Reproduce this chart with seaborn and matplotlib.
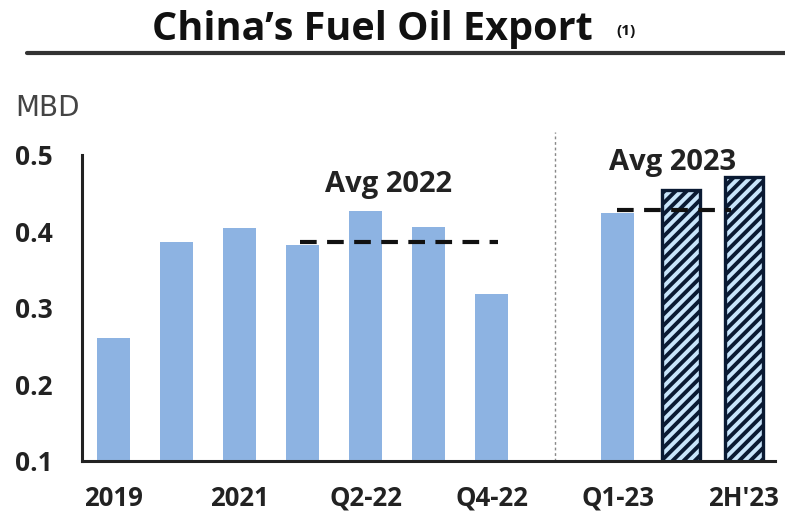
import numpy as np
import pandas as pd
import matplotlib
matplotlib.use("Agg")
import matplotlib.pyplot as plt
import seaborn as sns

categories = ["2019", "2020", "2021", "Q1-22", "Q2-22", "Q3-22", "Q4-22", "",
              "Q1-23", "1H'23", "2H'23"]
values = [0.261, 0.386, 0.405, 0.382, 0.427, 0.406, 0.318, np.nan,
          0.424, 0.454, 0.471]
kind = ["actual"] * 7 + ["gap"] + ["actual", "forecast", "forecast"]
shown_labels = ["2019", "", "2021", "", "Q2-22", "", "Q4-22", "", "Q1-23", "", "2H'23"]
avg_2022 = 0.386
avg_2023 = 0.428
y_ticks = [0.1, 0.2, 0.3, 0.4, 0.5]

df = pd.DataFrame({"cat": categories, "val": values, "kind": kind})

sns.set_theme(style="white")
plt.rcParams["font.family"] = ["Open Sans", "DejaVu Sans"]
plt.rcParams["hatch.color"] = "#143766"
plt.rcParams["hatch.linewidth"] = 2.8

fig = plt.figure(figsize=(7.85, 5.13), dpi=100)
ax = fig.add_axes([0.1045, 0.1014, 0.883, 0.5965])

bar_color = "#8DB3E2"
hatch_face = "#C8E5FB"
palette = {"actual": bar_color, "forecast": hatch_face, "gap": bar_color}
sns.barplot(data=df, x="cat", y="val", hue="kind", order=categories,
            palette=palette, dodge=False, width=0.52, legend=False, ax=ax,
            saturation=1, bottom=0)

for p in ax.patches:
    h = p.get_height()
    if np.isnan(h) or h == 0:
        continue
    xc = p.get_x() + p.get_width() / 2
    idx = int(round(xc))
    if kind[idx] == "forecast":
        p.set_edgecolor("#0A1A33")
        p.set_hatch("///")
        if hasattr(p, "set_hatch_linewidth"):
            p.set_hatch_linewidth(2.8)
        p.set_linewidth(2.4)
        x0 = p.get_x()
        p.set_x(x0 - 0.04)
        p.set_width(p.get_width() + 0.08)
    else:
        p.set_edgecolor("none")

ax.set_ylim(0.1, 0.5)
ax.set_xlim(-0.5, len(categories) - 0.5)
ax.set_yticks(y_ticks)
ax.set_yticklabels([f"{t:.1f}" for t in y_ticks], fontsize=19, fontweight="bold",
                   color="#222222")
ax.set_xticks(range(len(categories)))
ax.set_xticklabels(shown_labels, fontsize=18.5, fontweight="bold", color="#222222")
ax.set_xticks(np.arange(-0.5, len(categories) + 0.5, 1.0), minor=True)
ax.tick_params(axis="x", which="major", length=0, pad=17)
ax.tick_params(axis="x", which="minor", length=8, width=1.8, color="#222222",
               direction="out")
ax.tick_params(axis="y", which="major", length=9, width=1.8, color="#222222",
               direction="out", pad=12)
ax.set_xlabel("")
ax.set_ylabel("")
sns.despine(ax=ax)
for s in ["left", "bottom"]:
    ax.spines[s].set_linewidth(2.2)
    ax.spines[s].set_color("#222222")

# average lines
ax.hlines(avg_2022, 2.96, 6.1, colors="#111111", linestyles=(0, (4, 2.5)),
          linewidth=3)
ax.hlines(avg_2023, 7.99, 9.8, colors="#111111", linestyles=(0, (4, 2.5)),
          linewidth=3)
ax.text(4.36, 0.461, "Avg 2022", ha="center", va="center", fontsize=21,
        fontweight="bold", color="#222222")
ax.text(8.87, 0.49, "Avg 2023", ha="center", va="center", fontsize=21,
        fontweight="bold", color="#222222")

# separator
ax.plot([7, 7], [0.1, 0.53], color="#888888", linestyle=(0, (2, 2)),
        linewidth=1, clip_on=False)

# y unit label
fig.text(0.02, 0.7885, "MBD", fontsize=20, color="#444444",
         family=["DejaVu Sans"], ha="left", va="center")

# title
fig.text(0.194, 0.922, "China\u2019s Fuel Oil Export", ha="left", va="baseline",
         fontsize=28.5, fontweight="bold", color="#111111")
fig.text(0.785, 0.94, "(1)", ha="left", va="center", fontsize=11,
         fontweight="bold", color="#111111")
fig.add_artist(plt.Line2D([0.034, 1.0], [0.897, 0.897], color="#333333",
                          linewidth=3.0, transform=fig.transFigure))

fig.savefig("out.png", dpi=100, facecolor="white")
